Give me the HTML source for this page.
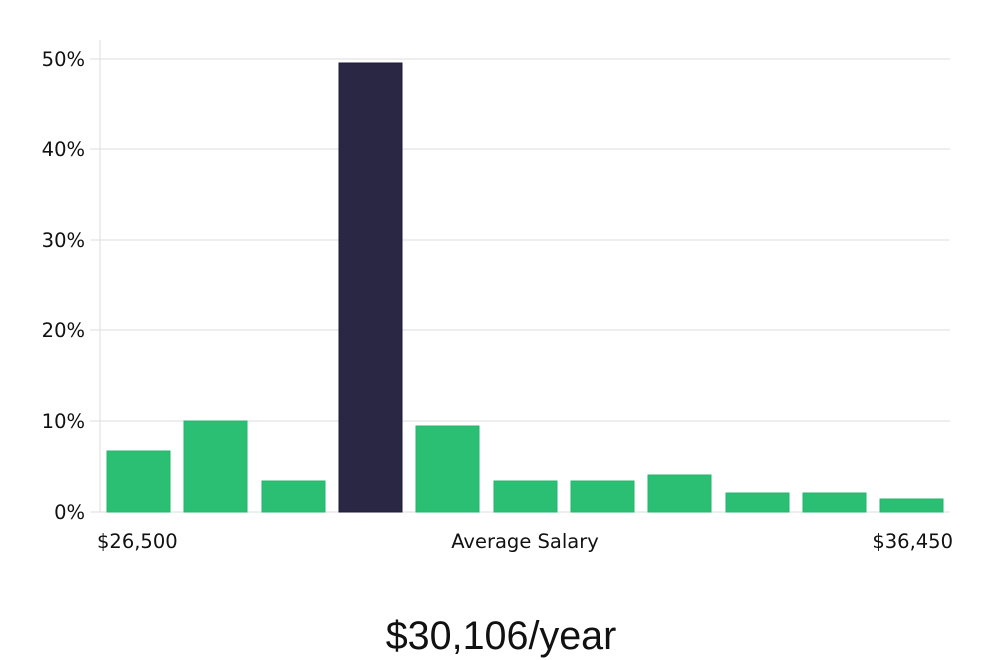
<!DOCTYPE html>
<html><head><style>body{margin:0;background:#fff}svg{display:block}</style></head><body>
<svg width="1000" height="660" xmlns="http://www.w3.org/2000/svg" font-family="DejaVu Sans, sans-serif">
<g stroke="#dddddd" stroke-width="1">
<line x1="100" y1="40" x2="100" y2="512"/>
<line x1="90" y1="512" x2="950" y2="512"/>
<line x1="90" y1="421" x2="950" y2="421"/>
<line x1="90" y1="330" x2="950" y2="330"/>
<line x1="90" y1="240" x2="950" y2="240"/>
<line x1="90" y1="149" x2="950" y2="149"/>
<line x1="90" y1="59" x2="950" y2="59"/>
</g>
<g font-size="19.5" fill="#111" text-anchor="end">
<text x="85" y="519">0%</text>
<text x="85" y="428">10%</text>
<text x="85" y="337">20%</text>
<text x="85" y="247">30%</text>
<text x="85" y="156">40%</text>
<text x="85" y="66">50%</text>
</g>
<g fill="#2bbf74" stroke="#25b56b" stroke-width="1">
<rect x="107" y="451" width="63" height="61"/>
<rect x="184" y="421" width="63" height="91"/>
<rect x="262" y="481" width="63" height="31"/>
<rect x="416" y="426" width="63" height="86"/>
<rect x="494" y="481" width="63" height="31"/>
<rect x="571" y="481" width="63" height="31"/>
<rect x="648" y="475" width="63" height="37"/>
<rect x="726" y="493" width="63" height="19"/>
<rect x="803" y="493" width="63" height="19"/>
<rect x="880" y="499" width="63" height="13"/>
</g>
<rect x="339" y="63" width="63" height="449" fill="#2a2745" stroke="#1e1b3a"/>
<g font-size="19.5" fill="#111">
<text x="97" y="548">$26,500</text>
<text x="525" y="548" text-anchor="middle">Average Salary</text>
<text x="953" y="548" text-anchor="end">$36,450</text>
</g>
<text x="501" y="649" font-size="39.5" text-anchor="middle" fill="#111" font-family="Liberation Sans, sans-serif">$30,106/year</text>
</svg>
</body></html>
